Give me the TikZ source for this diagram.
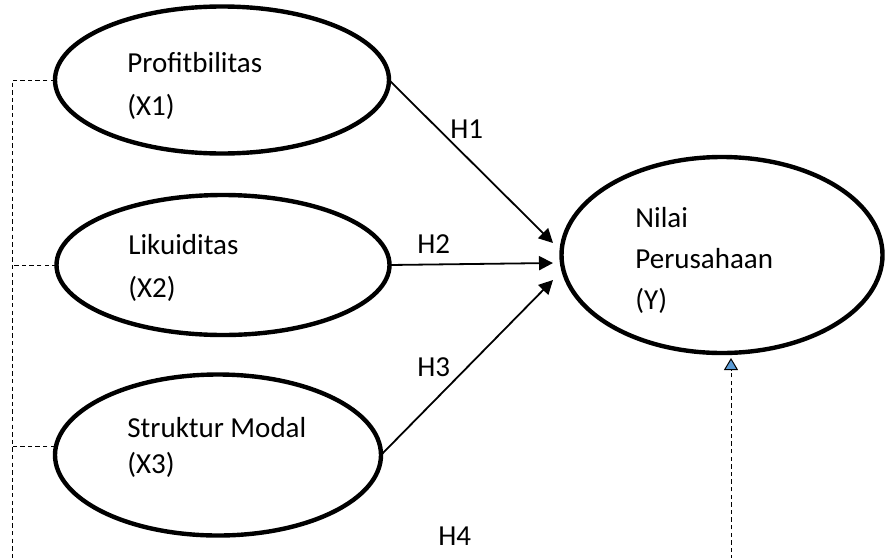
\documentclass[tikz,border=0pt]{standalone}
\usepackage{fontspec}
\setmainfont{Carlito}
\usepackage{xcolor}
\usepackage{tikz}
\usetikzlibrary{arrows.meta,positioning,calc,shapes.geometric}

\definecolor{tipblue}{HTML}{5B9BD5}

\begin{document}
\begin{tikzpicture}[
		x=0.5pt,y=-0.5pt,
		var/.style={
			draw,
			ellipse,
			line width=2.2pt,
			inner sep=0pt,
			outer sep=0pt
		},
		lbl/.style={
			anchor=base west,
			inner sep=0pt,
			align=left,
			font=\fontsize{14.5}{21.5}\selectfont
		},
		hyp/.style={
			line width=0.9pt,
			-{Triangle[length=7pt,width=7pt]}
		},
		dashline/.style={
			line width=0.5pt,
			dash pattern=on 2.2pt off 1.6pt
		}
		]
		
		\useasboundingbox (0,0) rectangle (886,557);
		
		% latent variables
		\node[var, minimum width=167pt, minimum height=73.5pt] (x1) at (222,80) {};
		\node[var, minimum width=166.5pt, minimum height=70pt] (x2) at (223,265) {};
		\node[var, minimum width=163pt, minimum height=80.5pt] (x3) at (218,455) {};
		\node[var, minimum width=160.5pt, minimum height=98pt] (y) at (722,255) {};
		
		% labels (anchored on the last line)
		\node[lbl] (x1txt) at (127,115) {Profitbilitas\\(X1)};
		\node[lbl] (x2txt) at (128,297) {Likuiditas\\(X2)};
		\node[lbl, font=\fontsize{14.5}{18}\selectfont] (x3txt) at (127,473) {Struktur Modal\\(X3)};
		\node[lbl, font=\fontsize{14.5}{20.5}\selectfont] (ytxt) at (635,309) {Nilai\\Perusahaan\\(Y)};
		
		% arrow ends
		\coordinate (t1) at (553,243);
		\coordinate (t2) at (553,263);
		\coordinate (t3) at (553,280);
		
		\draw[hyp] (x1.east) -- (t1);
		\draw[hyp] (x2.east) -- (t2);
		\draw[hyp] (x3.east) -- (t3);
		
		\node[lbl] (h1) at (450,138) {H1};
		\node[lbl] (h2) at (417,253) {H2};
		\node[lbl] (h3) at (417,376) {H3};
		\node[lbl] (h4) at (438,545) {H4};
		
		% simultaneous path
		\coordinate (v1) at (12,80);
		\coordinate (v2) at (12,265);
		\coordinate (v3) at (12,446);
		\coordinate (vb) at (12,575);
		\coordinate (yb) at (731,575);
		\coordinate (yt) at (731,358);
		
		\draw[dashline] (x1.west) -- (v1) -- (vb) -- (yb);
		\draw[dashline] (x2.west) -- (v2);
		\draw[dashline] (x3.west |- v3) -- (v3);
		\draw[dashline, -{Triangle[length=6pt,width=7pt,fill=tipblue]}] (yb) -- (yt);
		
	\end{tikzpicture}
\end{document}
